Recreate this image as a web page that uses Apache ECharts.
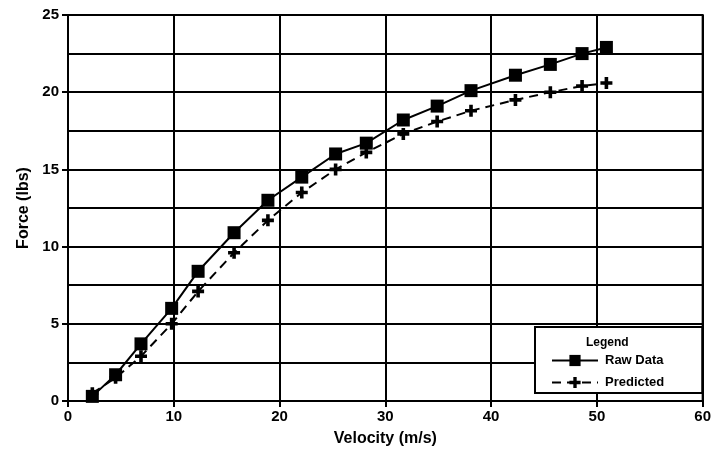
<!DOCTYPE html>
<html>
<head>
<meta charset="utf-8">
<script src="https://cdn.jsdelivr.net/npm/echarts@6/dist/echarts.min.js"></script>
<style>
  html, body { margin: 0; padding: 0; background: #fff; }
  #chart { width: 714px; height: 456px; }
</style>
</head>
<body>
<div id="chart"></div>
<script>
// velocity (m/s) and force (lbs)
const velocity = [2.3, 4.5, 6.9, 9.8, 12.3, 15.7, 18.9, 22.1, 25.3, 28.2, 31.7, 34.9, 38.1, 42.3, 45.6, 48.6, 50.9]
const rawData = [0.3, 1.7, 3.7, 6.0, 8.4, 10.9, 13.0, 14.5, 16.0, 16.7, 18.2, 19.1, 20.1, 21.1, 21.8, 22.5, 22.9]
const predicted = [0.5, 1.5, 2.9, 5.0, 7.1, 9.6, 11.7, 13.5, 15.0, 16.1, 17.3, 18.1, 18.8, 19.5, 20.0, 20.4, 20.6]
const seriesNames = ['Raw Data', 'Predicted']

const plus = 'path://M3.5,0 H6.5 V3.5 H10 V6.5 H6.5 V10 H3.5 V6.5 H0 V3.5 H3.5 Z'
const font = 'Liberation Sans, Arial, sans-serif'

const chart = echarts.init(document.getElementById('chart'))
chart.setOption({
  animation: false,
  backgroundColor: '#fff',
  textStyle: { fontFamily: font },
  title: {
    text: 'Legend',
    left: 581, top: 332,
    textStyle: { fontSize: 12, fontWeight: 'bold', color: '#000', fontFamily: font }
  },
  legend: {
    data: seriesNames,
    orient: 'vertical',
    left: 535, top: 327,
    padding: [27, 38, 4, 16],
    itemGap: 9,
    itemWidth: 46, itemHeight: 14,
    backgroundColor: '#fff',
    borderColor: '#000', borderWidth: 2,
    textStyle: { fontSize: 13, fontWeight: 'bold', color: '#000', padding: [0, 0, 0, 2] }
  },
  grid: { left: 68, right: 11, top: 15, bottom: 55, show: true, borderColor: '#000', borderWidth: 2 },
  xAxis: {
    type: 'value', min: 0, max: 60, interval: 10,
    name: 'Velocity (m/s)', nameLocation: 'middle', nameGap: 30,
    nameTextStyle: { fontSize: 16, fontWeight: 'bold', color: '#000' },
    axisLine: { lineStyle: { color: '#000', width: 2 } },
    axisTick: { show: true, length: 6, lineStyle: { color: '#000', width: 2 } },
    axisLabel: { fontSize: 15, fontWeight: 'bold', color: '#000', margin: 8 },
    splitLine: { show: true, lineStyle: { color: '#000', width: 2 } }
  },
  yAxis: {
    type: 'value', min: 0, max: 25, interval: 5,
    name: 'Force (lbs)', nameLocation: 'middle', nameGap: 36,
    nameTextStyle: { fontSize: 16, fontWeight: 'bold', color: '#000' },
    axisLine: { show: true, lineStyle: { color: '#000', width: 2 } },
    axisTick: { show: true, length: 6, lineStyle: { color: '#000', width: 2 } },
    minorTick: { show: false, splitNumber: 2 },
    axisLabel: { fontSize: 15, fontWeight: 'bold', color: '#000', margin: 9 },
    splitLine: { show: true, lineStyle: { color: '#000', width: 2 } },
    minorSplitLine: { show: true, lineStyle: { color: '#000', width: 2 } }
  },
  series: [
    {
      name: seriesNames[0], type: 'line',
      data: velocity.map((v, i) => [v, rawData[i]]),
      symbol: 'rect', symbolSize: 13,
      lineStyle: { color: '#000', width: 2 },
      itemStyle: { color: '#000' },
      z: 3
    },
    {
      name: seriesNames[1], type: 'line',
      data: velocity.map((v, i) => [v, predicted[i]]),
      symbol: plus, symbolSize: 12,
      lineStyle: { color: '#000', width: 2, type: [9, 6] },
      itemStyle: { color: '#000' },
      z: 2
    }
  ]
})
</script>
</body>
</html>
